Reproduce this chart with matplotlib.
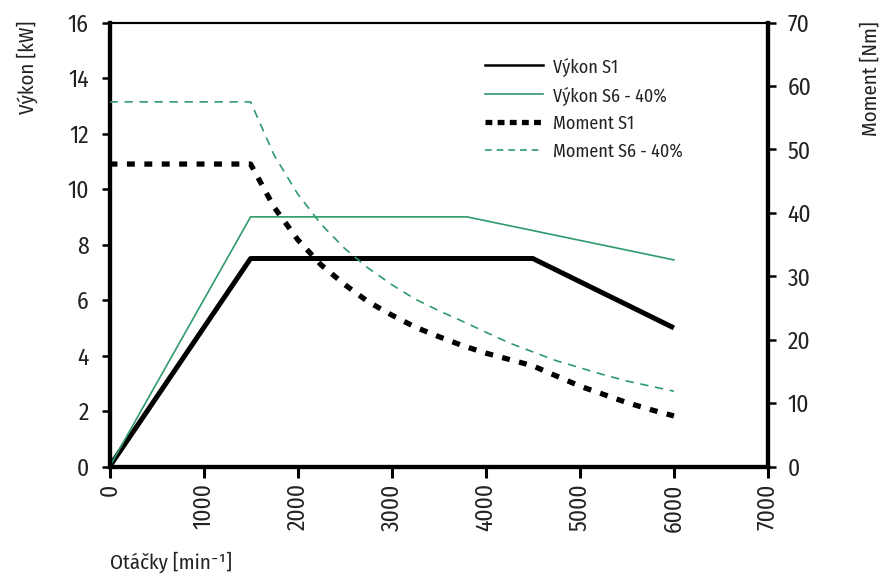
import matplotlib
matplotlib.use("Agg")
import matplotlib.pyplot as plt
from matplotlib.lines import Line2D

plt.rcParams['font.family'] = ['Fira Sans Condensed', 'DejaVu Sans']

# Data
rpm_power_s1 = [0, 1500, 4500, 6000]
power_s1 = [0, 7.5, 7.5, 5.0]

rpm_power_s6 = [0, 1500, 3800, 6000]
power_s6 = [0, 9.0, 9.0, 7.45]

rpm_moment = [0, 1500, 1750, 2000, 2250, 2500, 2750, 3000, 3250, 3500, 3750,
              4000, 4250, 4500, 4750, 5000, 5250, 5500, 5750, 6000]
moment_s1 = [47.7, 47.7, 40.9, 35.8, 31.8, 28.7, 26.0, 23.9, 22.0, 20.5, 19.1,
             17.9, 16.9, 15.9, 14.3, 12.7, 11.4, 10.1, 9.0, 8.0]

rpm_moment_s6 = [0, 1500, 1750, 2000, 2250, 2500, 2750, 3000, 3250, 3500, 3800,
                 4000, 4250, 4500, 4750, 5000, 5250, 5500, 5750, 6000]
moment_s6 = [57.5, 57.5, 49.1, 43.0, 38.2, 34.4, 31.3, 28.7, 26.4, 24.6, 22.6,
             21.2, 19.5, 18.1, 16.7, 15.6, 14.5, 13.5, 12.7, 11.9]

x_ticks = [0, 1000, 2000, 3000, 4000, 5000, 6000, 7000]
y_left_ticks = [0, 2, 4, 6, 8, 10, 12, 14, 16]
y_right_ticks = [0, 10, 20, 30, 40, 50, 60, 70]

labels = ['Výkon S1', 'Výkon S6 - 40%', 'Moment S1', 'Moment S6 - 40%']

green = '#2f9a6b'
txt_col = '#222222'
tick_fs = 17

fig = plt.figure(figsize=(8.81, 5.79), dpi=100)
ax = fig.add_axes([0.1243, 0.194, 0.7474, 0.767])
ax2 = ax.twinx()

ax.plot(rpm_power_s1, power_s1, color='black', lw=3.6, solid_capstyle='butt', zorder=3)
ax.plot(rpm_power_s6, power_s6, color=green, lw=1.2, zorder=3)
ax2.plot(rpm_moment, moment_s1, color='black', lw=3.8, dashes=(1.5, 1.8), zorder=3)
ax2.plot(rpm_moment_s6, moment_s6, color=green, lw=1.2, dashes=(5, 4), zorder=3)

ax.set_xlim(0, 7000)
ax.set_ylim(0, 16)
ax2.set_ylim(0, 70)
ax.set_xticks(x_ticks)
ax.set_xticklabels([str(t) for t in x_ticks], rotation=90, fontsize=tick_fs, color=txt_col)
ax.set_yticks(y_left_ticks)
ax.set_yticklabels([str(t) for t in y_left_ticks], fontsize=tick_fs, color=txt_col)
ax2.set_yticks(y_right_ticks)
ax2.set_yticklabels([str(t) for t in y_right_ticks], fontsize=tick_fs, color=txt_col)

for a in (ax, ax2):
    for s in ('left', 'bottom', 'right'):
        a.spines[s].set_linewidth(3.0)
    a.spines['top'].set_linewidth(1.5)
ax.tick_params(axis='x', direction='out', length=8, width=2.2, pad=4)
ax.tick_params(axis='y', direction='out', length=6, width=1.8, pad=9)
ax2.tick_params(axis='y', direction='out', length=6, width=1.8, pad=8)

fig.text(0.031, 0.884, 'Výkon [kW]', rotation=90, ha='center', va='center', fontsize=15, color=txt_col)
fig.text(0.989, 0.865, 'Moment [Nm]', rotation=90, ha='center', va='center', fontsize=15, color=txt_col)
fig.text(0.125, 0.029, 'Otáčky [min⁻¹]', ha='left', va='center', fontsize=15, color=txt_col)

handles = [
    Line2D([], [], color='black', lw=1.8),
    Line2D([], [], color=green, lw=1.2),
    Line2D([], [], color='black', lw=3.8, dashes=(1.3, 1.0)),
    Line2D([], [], color=green, lw=1.2, dashes=(4, 3)),
]
leg = fig.legend(handles, labels, loc='upper left', bbox_to_anchor=(0.532, 0.93),
                 frameon=False, fontsize=13, handlelength=3.2, handletextpad=0.55,
                 labelspacing=0.55)
for t in leg.get_texts():
    t.set_color(txt_col)

fig.savefig('out.png', dpi=100)
